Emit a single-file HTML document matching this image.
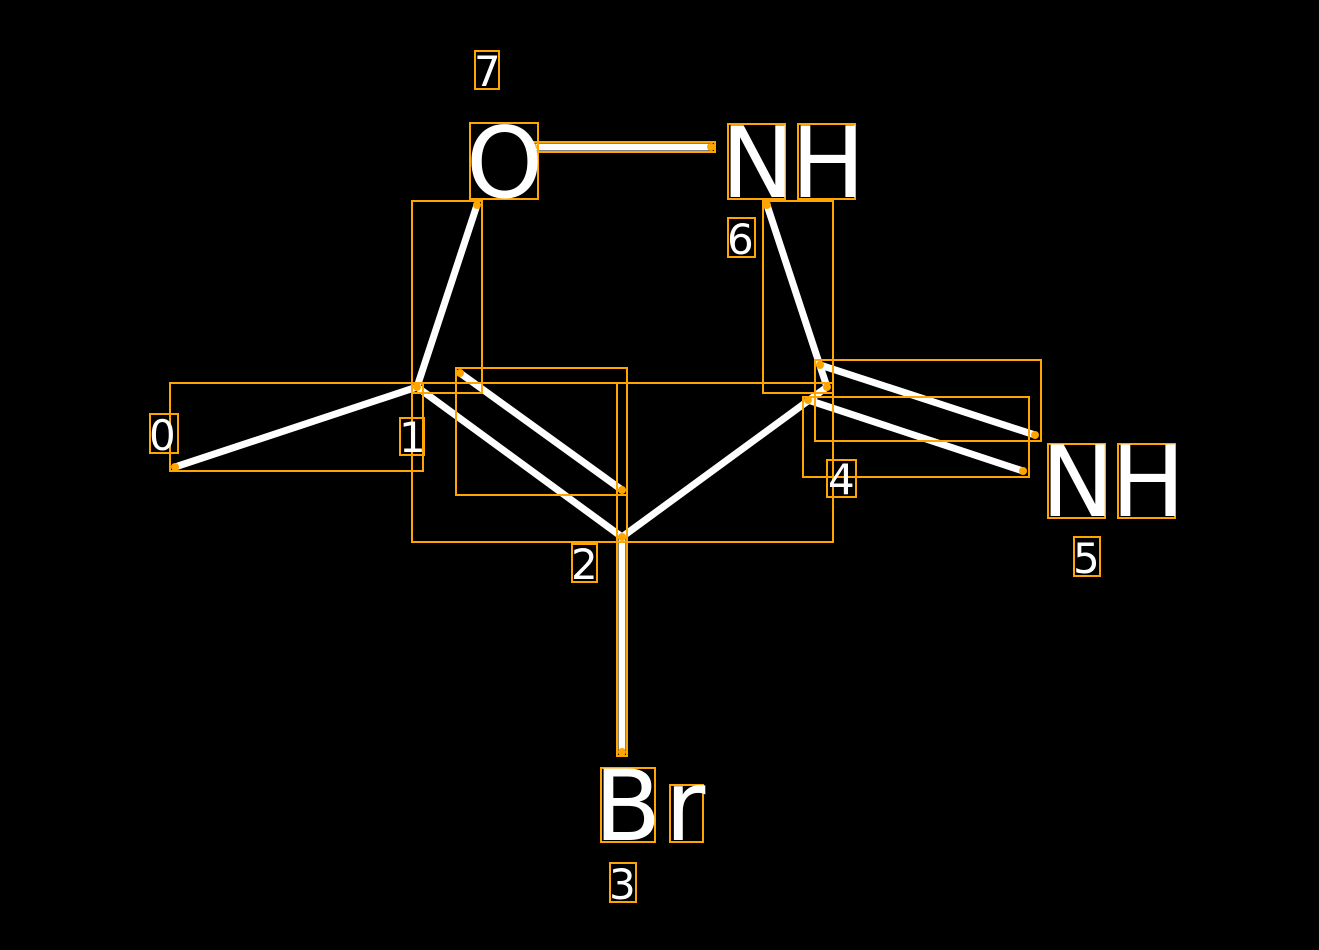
<!DOCTYPE html>
<html><head><style>body{margin:0;background:#000}svg{display:block}text{font-family:"DejaVu Sans","Liberation Sans",sans-serif;fill:#fff}</style></head>
<body>
<svg width="1319" height="950" viewBox="0 0 1319 950">
<rect width="1319" height="950" fill="#000"/>
<g stroke="#fff" stroke-width="7" stroke-linecap="round">
<line x1="175" y1="467" x2="417" y2="387"/>
<line x1="417" y1="387" x2="477" y2="205"/>
<line x1="417" y1="387" x2="622" y2="537"/>
<line x1="460" y1="373" x2="622" y2="490"/>
<line x1="622" y1="537" x2="827" y2="387"/>
<line x1="622" y1="537" x2="622" y2="752"/>
<line x1="827" y1="387" x2="767" y2="205"/>
<line x1="820" y1="365" x2="1035" y2="435"/>
<line x1="808" y1="400" x2="1023" y2="471"/>
<line x1="533" y1="147" x2="711" y2="147"/>
</g>
<g fill="none" stroke="#FFA500" stroke-width="2">
<rect x="529" y="142" width="186" height="10"/>
<rect x="170" y="383" width="253" height="88"/>
<rect x="412" y="201" width="70" height="192"/>
<rect x="412" y="383" width="215" height="159"/>
<rect x="617" y="383" width="216" height="159"/>
<rect x="456" y="368" width="171" height="127"/>
<rect x="763" y="201" width="70" height="192"/>
<rect x="815" y="360" width="226" height="81"/>
<rect x="803" y="397" width="226" height="80"/>
<rect x="617" y="537" width="10" height="219"/>
<rect x="470" y="123" width="68" height="76"/>
<rect x="728" y="124" width="57" height="75"/>
<rect x="798" y="124" width="57" height="75"/>
<rect x="1048" y="444" width="57" height="74"/>
<rect x="1118" y="444" width="57" height="74"/>
<rect x="601" y="768" width="54" height="74"/>
<rect x="670" y="785" width="33" height="57"/>
<rect x="475" y="51" width="24" height="38"/>
<rect x="728" y="218" width="27" height="39"/>
<rect x="150" y="414" width="28" height="39"/>
<rect x="400" y="418" width="24" height="37"/>
<rect x="572" y="544" width="25" height="38"/>
<rect x="827" y="460" width="29" height="37"/>
<rect x="1074" y="537" width="26" height="39"/>
<rect x="610" y="863" width="26" height="39"/>
</g>
<g fill="#FFA500">
<circle cx="175" cy="467" r="4"/><circle cx="417" cy="387" r="4"/><circle cx="477" cy="205" r="4"/>
<circle cx="460" cy="373" r="4"/><circle cx="622" cy="490" r="4"/><circle cx="622" cy="537" r="4"/>
<circle cx="622" cy="752" r="4"/><circle cx="827" cy="387" r="4"/><circle cx="767" cy="205" r="4"/>
<circle cx="820" cy="365" r="4"/><circle cx="1035" cy="435" r="4"/><circle cx="808" cy="400" r="4"/>
<circle cx="1023" cy="471" r="4"/><circle cx="533" cy="147" r="4"/><circle cx="711" cy="147" r="4"/>
</g>
<g font-size="98">
<text x="466" y="197">O</text>
<text x="721" y="197">N</text><text x="791" y="197">H</text>
<text x="1041" y="516">N</text><text x="1111" y="516">H</text>
<text x="594" y="840">B</text><text x="665" y="840">r</text>
</g>
<g font-size="42">
<text x="474" y="86">7</text>
<text x="727" y="254">6</text>
<text x="149" y="450">0</text>
<text x="399" y="452">1</text>
<text x="571" y="579">2</text>
<text x="828" y="494">4</text>
<text x="1073" y="573">5</text>
<text x="609" y="899">3</text>
</g>
</svg>
</body></html>
